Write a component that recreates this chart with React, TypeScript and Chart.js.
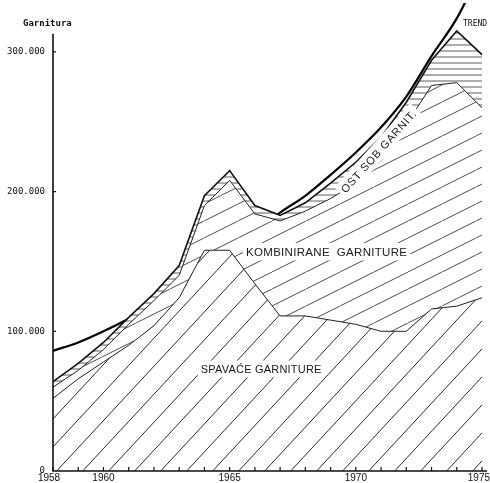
import React, { useEffect, useRef } from "react";
import { Chart, registerables } from "chart.js";

Chart.register(...registerables);

// values in thousands of "garnitura"
const years = ["1958","1959","1960","1961","1962","1963","1964","1965","1966","1967","1968","1969","1970","1971","1972","1973","1974","1975"];
const shownYears = ["1958", "1960", "1965", "1970", "1975"];
const spavace = [52, 66, 78, 90, 104, 124, 158, 158, 134, 111, 111, 108, 105, 100, 100, 116, 118, 124];
const kombinirane = [8, 6, 9, 15, 18, 16, 32, 50, 50, 68, 75, 87, 101, 122, 148, 160, 160, 136];
const ostale = [4, 5, 5, 5, 5, 7, 7, 7, 6, 4, 6, 11, 15, 17, 16, 18, 37, 38];
const trend = [86, 92, 100, 109, 119, 130, 143, 157, 171, 185, 197, 212, 228, 246, 268, 297, 324, 360];
const yTicks = [0, 100, 200, 300];

function hatch(ctx: CanvasRenderingContext2D, w: number, h: number, lw: number, color: string, horizontal = false) {
  const c = document.createElement("canvas");
  c.width = w;
  c.height = h;
  const g = c.getContext("2d")!;
  g.fillStyle = "#ffffff";
  g.fillRect(0, 0, w, h);
  g.strokeStyle = color;
  g.lineWidth = lw;
  if (horizontal) {
    g.beginPath();
    g.moveTo(0, h / 2);
    g.lineTo(w, h / 2);
    g.stroke();
  } else {
    for (const k of [-1, 0, 1]) {
      g.beginPath();
      g.moveTo(k * w, h);
      g.lineTo(k * w + w, 0);
      g.stroke();
    }
  }
  return ctx.createPattern(c, "repeat")!;
}

const decor = {
  id: "decor",
  afterDraw(chart: any) {
    const { ctx, chartArea, scales } = chart;
    const xs = scales.x;
    const ys = scales.y;
    ctx.save();
    // axes
    ctx.strokeStyle = "#111";
    ctx.lineWidth = 1.6;
    ctx.beginPath();
    ctx.moveTo(chartArea.left, ys.getPixelForValue(313));
    ctx.lineTo(chartArea.left, chartArea.bottom);
    ctx.lineTo(chartArea.right + 5, chartArea.bottom);
    ctx.stroke();
    ctx.lineWidth = 1.2;
    for (const v of yTicks) {
      if (v === 0) continue;
      const y = ys.getPixelForValue(v);
      ctx.beginPath();
      ctx.moveTo(chartArea.left, y);
      ctx.lineTo(chartArea.left + 3, y);
      ctx.stroke();
    }
    years.forEach((_, i) => {
      const x = xs.getPixelForValue(i);
      ctx.beginPath();
      ctx.moveTo(x, chartArea.bottom);
      ctx.lineTo(x, chartArea.bottom - 4);
      ctx.stroke();
    });

    // x labels
    ctx.fillStyle = "#111";
    ctx.font = "10px 'Liberation Sans'";
    ctx.textBaseline = "middle";
    years.forEach((yr, i) => {
      if (!shownYears.includes(yr)) return;
      const x = xs.getPixelForValue(i);
      ctx.textAlign = "center";
      let cx = i === 0 ? x - 4 : x;
      const w = ctx.measureText(yr).width;
      if (cx + w / 2 > 490) cx = 490 - w / 2;
      ctx.fillText(yr, cx, chartArea.bottom + 7);
    });

    // titles
    ctx.font = "bold 9px 'DejaVu Sans Mono'";
    ctx.textAlign = "left";
    ctx.fillText("Garnitura", 23, 24);
    ctx.font = "8px 'DejaVu Sans Mono'";
    ctx.fillText("TREND", 463, 24);

    const label = (text: string, x: number, y: number, size: number, align: CanvasTextAlign, rot = 0, spacing = 1) => {
      ctx.save();
      ctx.translate(x, y);
      ctx.rotate(rot);
      ctx.font = `${size}px 'Liberation Sans'`;
      (ctx as any).letterSpacing = `${spacing}px`;
      const w = ctx.measureText(text).width;
      const x0 = align === "center" ? -w / 2 : 0;
      ctx.fillStyle = "#ffffff";
      ctx.fillRect(x0 - 3, -size / 2 - 3, w + 6, size + 6);
      ctx.fillStyle = "#1a1a1a";
      ctx.textAlign = "left";
      ctx.textBaseline = "middle";
      ctx.fillText(text, x0, 1);
      ctx.restore();
    };
    label("SPAVAĆE GARNITURE", xs.getPixelForValue(8.25), ys.getPixelForValue(73), 11, "center", 0, 0.2);
    label("KOMBINIRANE  GARNITURE", xs.getPixelForValue(7.65), ys.getPixelForValue(157), 11.5, "left", 0, 0.3);
    label("OST SOB GARNIT.", xs.getPixelForValue(12.9), ys.getPixelForValue(229), 11, "center", -0.84, 0.8);
    ctx.restore();
  },
};

export default function App() {
  const ref = useRef<HTMLCanvasElement>(null);
  useEffect(() => {
    const canvas = ref.current!;
    const ctx = canvas.getContext("2d")!;
    const pSpav = hatch(ctx, 26, 28, 1, "#2a2a2a");
    const pKomb = hatch(ctx, 34, 17, 0.9, "#3a3a3a");
    const pOst = hatch(ctx, 8, 6, 0.8, "#333333", true);
    const chart = new Chart(canvas, {
      type: "line",
      data: {
        labels: years,
        datasets: [
          { label: "Spavaće garniture", data: spavace, stack: "a", fill: "origin", backgroundColor: pSpav, borderColor: "#222", borderWidth: 1, pointRadius: 0, tension: 0 },
          { label: "Kombinirane garniture", data: kombinirane, stack: "a", fill: "-1", backgroundColor: pKomb, borderColor: "#222", borderWidth: 1, pointRadius: 0, tension: 0 },
          { label: "Ost. sob. garniture", data: ostale, stack: "a", fill: "-1", backgroundColor: pOst, borderColor: "#111", borderWidth: 1.6, pointRadius: 0, tension: 0 },
          { label: "Trend", data: trend, stack: "trend", fill: false, borderColor: "#000", borderWidth: 2.2, pointRadius: 0, cubicInterpolationMode: "monotone" },
        ],
      },
      options: {
        responsive: false,
        animation: false,
        devicePixelRatio: 1,
        layout: { padding: { top: 3, right: 8, left: 0, bottom: 0 } },
        plugins: { legend: { display: false }, tooltip: { enabled: false } },
        scales: {
          x: {
            type: "category",
            offset: false,
            grid: { display: false },
            border: { display: false },
            ticks: { display: false },
            afterFit: (s: any) => {
              s.height = 12;
              s.paddingLeft = 0;
              s.paddingRight = 0;
            },
          },
          y: {
            stacked: true,
            min: 0,
            max: 335,
            grid: { display: false, drawTicks: false },
            border: { display: false },
            ticks: {
              stepSize: 100,
              includeBounds: false,
              padding: 8,
              color: "#111",
              font: { family: "'DejaVu Sans Mono'", size: 9 },
              callback: (v: any) => (v === 0 ? "0" : `${v}.000`),
            },
            afterFit: (s: any) => {
              s.width = 53;
              s.paddingTop = 0;
              s.paddingBottom = 0;
            },
          },
        },
      },
      plugins: [decor],
    } as any);
    return () => chart.destroy();
  }, []);
  return (
    <div style={{ position: "fixed", left: 0, top: 0, width: 490, height: 483, background: "#fff" }}>
      <canvas ref={ref} width={490} height={483} style={{ display: "block" }} />
    </div>
  );
}
